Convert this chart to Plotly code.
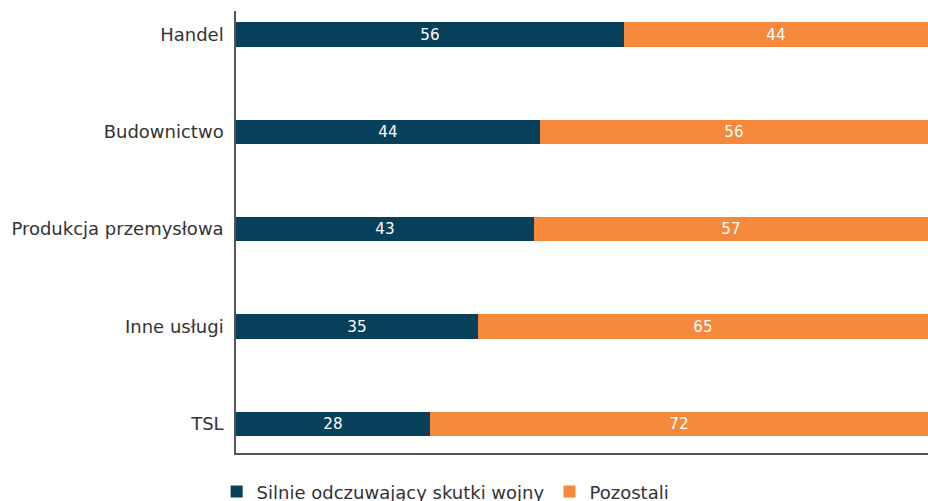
import plotly.graph_objects as go

categories = ["TSL", "Inne usługi", "Produkcja przemysłowa", "Budownictwo", "Handel"]
silnie = [28, 35, 43, 44, 56]
pozostali = [72, 65, 57, 56, 44]
series_names = ["Silnie odczuwający skutki wojny", "Pozostali"]

DARK = "#07405A"
ORANGE = "#F5883B"
FONT = "DejaVu Sans, sans-serif"

fig = go.Figure()
fig.add_trace(go.Bar(
    y=categories, x=silnie, orientation="h", name=series_names[0],
    marker=dict(color=DARK, line=dict(width=0)), width=0.25,
    text=silnie, textposition="inside", insidetextanchor="middle", textangle=0,
    textfont=dict(color="white", size=16, family=FONT),
))
fig.add_trace(go.Bar(
    y=categories, x=pozostali, orientation="h", name=series_names[1],
    marker=dict(color=ORANGE, line=dict(width=0)), width=0.25,
    text=pozostali, textposition="inside", insidetextanchor="middle", textangle=0,
    textfont=dict(color="white", size=16, family=FONT),
))

fig.update_layout(
    barmode="stack",
    width=928, height=501,
    margin=dict(l=236, r=0, t=11, b=48, autoexpand=False),
    plot_bgcolor="white", paper_bgcolor="white",
    font=dict(family=FONT, size=18, color="#333333"),
    bargap=0,
    showlegend=True,
    legend=dict(orientation="h", x=-0.028, xanchor="left", y=-0.088, yanchor="middle",
                font=dict(size=18, color="#333333"), traceorder="normal",
                itemwidth=30, itemsizing="constant"),
    uniformtext=dict(mode="show", minsize=10),
)
fig.update_xaxes(range=[0, 100], showticklabels=False, showgrid=False, zeroline=False,
                 showline=True, linecolor="#555555", linewidth=1.5, ticks="", automargin=False)
fig.update_yaxes(categoryorder="array", categoryarray=categories, range=[-0.3, 4.24],
                 showgrid=False, zeroline=False, showline=True, linecolor="#555555",
                 linewidth=1.5, ticks="", ticklabelstandoff=7, automargin=False,
                 tickfont=dict(size=18, color="#333333"))

fig.write_html("out.html", config={"displayModeBar": False},
               post_script="document.body.style.margin='0';document.body.style.overflow='hidden';")
